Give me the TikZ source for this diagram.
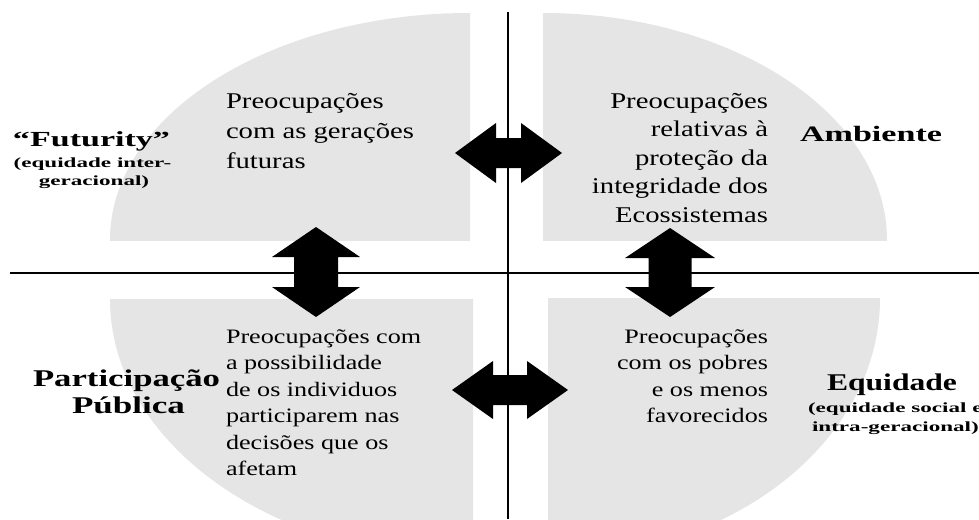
\documentclass[tikz,border=0pt]{standalone}
\usepackage{fontspec}
\setmainfont{Liberation Serif}
\usepackage{graphicx}
\definecolor{quadgray}{RGB}{229,229,229}
\newcommand\bodytxt[4]{\scalebox{1.275}[1]{\fontsize{#2}{#3}\selectfont\begin{tabular}[t]{@{}#1@{}}#4\end{tabular}}}
\newcommand\lab[3]{\resizebox{#1pt}{\height}{\fontsize{#2}{#2}\selectfont\bfseries #3}}
\newcommand\slab[1]{\scalebox{1.65}[1]{\fontsize{14}{14}\selectfont\bfseries #1}}
\tikzset{
  quad/.style={fill=quadgray},
  axis/.style={draw=black, line width=2pt},
  txt/.style={inner sep=0pt, outer sep=0pt},
  pics/dblarrow/.style n args={4}{code={
    \fill[black] (-#1,0) -- (-#1+#2,-#3) -- (-#1+#2,-#4) -- (#1-#2,-#4) -- (#1-#2,-#3) -- (#1,0)
      -- (#1-#2,#3) -- (#1-#2,#4) -- (-#1+#2,#4) -- (-#1+#2,#3) -- cycle;}}
}
\begin{document}
\begin{tikzpicture}[x=1pt,y=-1pt]
\useasboundingbox[fill=white] (0,0) rectangle (979,519);
% quadrants
\begin{scope}
  \clip (0,0) rectangle (470,240);
  \fill[quad] (470,240) ellipse [x radius=360, y radius=227];
\end{scope}
\begin{scope}
  \clip (543,0) rectangle (979,240);
  \fill[quad] (543,240) ellipse [x radius=344, y radius=227];
\end{scope}
\begin{scope}
  \clip (0,299) rectangle (473,519);
  \fill[quad] (473,299) ellipse [x radius=363, y radius=260];
\end{scope}
\begin{scope}
  \clip (548,298) rectangle (979,519);
  \fill[quad] (548,298) ellipse [x radius=332, y radius=260];
\end{scope}
% axes
\coordinate (vtop) at (508,12);
\coordinate (vbot) at (508,519);
\coordinate (hleft) at (10,273);
\coordinate (hright) at (979,273);
\draw[axis] (vtop) -- (vbot);
\draw[axis] (hleft) -- (hright);
% arrows
\pic at (508.5,153) {dblarrow={53.5}{41}{30}{15}};
\pic at (510,390) {dblarrow={58}{41}{29}{15}};
\pic[rotate=90] at (316,272) {dblarrow={45}{30}{44}{22}};
\pic[rotate=90] at (670,272.5) {dblarrow={44.5}{30}{45}{21.5}};
% body texts
\node[txt, anchor=base west] (tlt) at (226,108) {\bodytxt{l}{22.5}{30}{Preocupações\\com as gerações\\futuras}};
\node[txt, anchor=base east] (trt) at (768,108) {\bodytxt{r}{22.5}{28.5}{Preocupações\\relativas à\\proteção da\\integridade dos\\Ecossistemas}};
\node[txt, anchor=base west] (blt) at (226,343) {\bodytxt{l}{20.5}{26.5}{Preocupações com\\a possibilidade\\de os individuos\\participarem nas\\decisões que os\\afetam}};
\node[txt, anchor=base east] (brt) at (768,343) {\bodytxt{r}{20.5}{26.5}{Preocupações\\com os pobres\\e os menos\\favorecidos}};
% labels
\node[txt, anchor=base] (fut) at (91.5,146) {\lab{157}{21.5}{“Futurity”}};
\node[txt, anchor=base] (futa) at (92.5,167) {\slab{(equidade inter-}};
\node[txt, anchor=base] (futb) at (94,185) {\slab{geracional)}};
\node[txt, anchor=base west] (amb) at (800,141) {\lab{142}{22}{Ambiente}};
\node[txt, anchor=base west] (par) at (33,386) {\lab{187}{24}{Participação}};
\node[txt, anchor=base] (pub) at (128.5,413) {\lab{113}{24}{Pública}};
\node[txt, anchor=base west] (equ) at (827,390) {\lab{130}{24}{Equidade}};
\node[txt, anchor=base west] (equa) at (808,412) {\slab{(equidade social e}};
\node[txt, anchor=base west] (equb) at (812,431) {\slab{intra-geracional)}};
\end{tikzpicture}
\end{document}
